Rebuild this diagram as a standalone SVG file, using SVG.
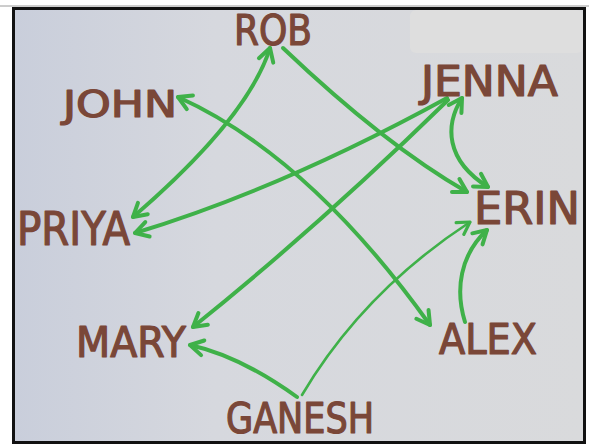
<svg xmlns="http://www.w3.org/2000/svg" width="589" height="445" viewBox="0 0 589 445">
  <defs>
    <linearGradient id="paper" x1="0" y1="0" x2="1" y2="0">
      <stop offset="0" stop-color="#c9cedb"/>
      <stop offset="0.35" stop-color="#d6d8de"/>
      <stop offset="1" stop-color="#d9dadc"/>
    </linearGradient>
    <marker id="head" viewBox="-16 -10 20 20" markerWidth="20" markerHeight="20" refX="0" refY="0" markerUnits="userSpaceOnUse" orient="auto-start-reverse" overflow="visible">
      <path d="M-13,-7.5 L0,0 L-13,7.5" fill="none" stroke="#3fb149" stroke-width="4" stroke-linecap="round" stroke-linejoin="round"/>
    </marker>
    <marker id="headThin" viewBox="-16 -10 20 20" markerWidth="20" markerHeight="20" refX="0" refY="0" markerUnits="userSpaceOnUse" orient="auto-start-reverse" overflow="visible">
      <path d="M-12,-7 L0,0 L-12,7" fill="none" stroke="#3fb149" stroke-width="3.2" stroke-linecap="round" stroke-linejoin="round"/>
    </marker>
  </defs>
  <style>
    .lbl { font-family: "Liberation Sans Narrow", "DejaVu Sans Condensed", "Liberation Sans", sans-serif; font-weight: normal; fill: #7a4738; stroke: #7a4738; stroke-width: 1.2; stroke-linejoin: round; }
    .edge { fill: none; stroke: #3fb149; stroke-width: 4; stroke-linecap: round; }
    .thin { stroke-width: 2.6; }
  </style>
  <rect x="0" y="0" width="589" height="445" fill="#ffffff"/>
  <line x1="0" y1="6" x2="589" y2="6" stroke="#9a9a9a" stroke-width="1"/>
  <rect x="13.5" y="8.5" width="571" height="434" fill="url(#paper)" stroke="#111111" stroke-width="3"/>
  <rect x="410" y="10" width="173" height="43" rx="6" fill="#dedede"/>

  <g id="connectors">
    <path class="edge" d="M270,48 Q248,118 133,217" marker-start="url(#head)" marker-end="url(#head)"/>
    <path class="edge" d="M283,48 Q385,145 467,192" marker-end="url(#head)"/>
    <path class="edge" d="M178,97 Q309,156 430,325" marker-start="url(#head)" marker-end="url(#head)"/>
    <path class="edge" d="M447,98 Q281,189 135,233" marker-end="url(#head)"/>
    <path class="edge" d="M448,100 Q320,225 193,327" marker-end="url(#head)"/>
    <path class="edge" d="M462,98 C445,125 445,160 488,187" marker-start="url(#head)" marker-end="url(#head)"/>
    <path class="edge" d="M465,322 C455,290 460,255 487,230" marker-end="url(#head)"/>
    <path class="edge" d="M297,397 Q240,356 190,345" marker-end="url(#head)"/>
    <path class="edge thin" d="M302,395 Q363,292 470,222" marker-end="url(#headThin)"/>
  </g>

  <g id="rob"><text class="lbl" x="234" y="45" font-size="42" textLength="78" lengthAdjust="spacingAndGlyphs">ROB</text></g>
  <g id="john"><text class="lbl" x="63" y="117" font-size="38" textLength="114" lengthAdjust="spacingAndGlyphs">JOHN</text></g>
  <g id="jenna"><text class="lbl" x="421" y="96" font-size="42" textLength="137" lengthAdjust="spacingAndGlyphs">JENNA</text></g>
  <g id="priya"><text class="lbl" x="17" y="245" font-size="46" textLength="113" lengthAdjust="spacingAndGlyphs">PRIYA</text></g>
  <g id="erin"><text class="lbl" x="474" y="224" font-size="44" textLength="106" lengthAdjust="spacingAndGlyphs">ERIN</text></g>
  <g id="mary"><text class="lbl" x="76" y="357" font-size="42" textLength="110" lengthAdjust="spacingAndGlyphs">MARY</text></g>
  <g id="alex"><text class="lbl" x="439" y="354" font-size="42" textLength="98" lengthAdjust="spacingAndGlyphs">ALEX</text></g>
  <g id="ganesh"><text class="lbl" x="226" y="433" font-size="42" textLength="148" lengthAdjust="spacingAndGlyphs">GANESH</text></g>
</svg>
